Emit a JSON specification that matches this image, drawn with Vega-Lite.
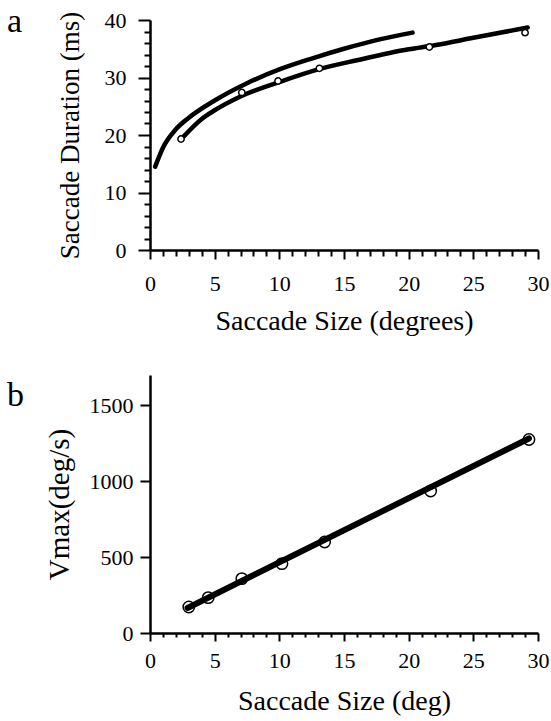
{
  "$schema": "https://vega.github.io/schema/vega-lite/v6.json",
  "background": "white",
  "padding": {"left": 7, "top": 5, "right": 4, "bottom": 3},
  "spacing": 40,
  "config": {
    "view": {"stroke": null},
    "font": "Liberation Serif",
    "axis": {
      "grid": false,
      "domainColor": "black",
      "domainWidth": 2.5,
      "tickColor": "black",
      "tickWidth": 2,
      "labelColor": "black",
      "titleColor": "black",
      "labelFont": "Liberation Serif",
      "titleFont": "Liberation Serif",
      "labelFontSize": 22,
      "titleFontWeight": "normal",
      "labelFlush": false,
      "labelOverlap": false
    }
  },
  "datasets": {
    "curves": [
      {"x": 0.4, "y": 14.5, "curve": "upper"},
      {"x": 1, "y": 17.8, "curve": "upper"},
      {"x": 2, "y": 21, "curve": "upper"},
      {"x": 3, "y": 23, "curve": "upper"},
      {"x": 5, "y": 26, "curve": "upper"},
      {"x": 7.5, "y": 29, "curve": "upper"},
      {"x": 10, "y": 31.4, "curve": "upper"},
      {"x": 12.5, "y": 33.3, "curve": "upper"},
      {"x": 15, "y": 35, "curve": "upper"},
      {"x": 17.5, "y": 36.5, "curve": "upper"},
      {"x": 20.3, "y": 37.8, "curve": "upper"},
      {"x": 2.5, "y": 19.5, "curve": "lower"},
      {"x": 4, "y": 22.8, "curve": "lower"},
      {"x": 5, "y": 24.3, "curve": "lower"},
      {"x": 7, "y": 26.7, "curve": "lower"},
      {"x": 10, "y": 29.2, "curve": "lower"},
      {"x": 13, "y": 31.4, "curve": "lower"},
      {"x": 16, "y": 33.0, "curve": "lower"},
      {"x": 20, "y": 34.9, "curve": "lower"},
      {"x": 22, "y": 35.6, "curve": "lower"},
      {"x": 25, "y": 36.9, "curve": "lower"},
      {"x": 29.2, "y": 38.7, "curve": "lower"}
    ],
    "pointsA": [
      {"x": 2.4, "y": 19.3},
      {"x": 7.1, "y": 27.4},
      {"x": 9.9, "y": 29.4},
      {"x": 13.1, "y": 31.6},
      {"x": 21.6, "y": 35.3},
      {"x": 29.0, "y": 37.8}
    ],
    "lineB": [
      {"x": 2.9, "y": 165},
      {"x": 29.3, "y": 1282}
    ],
    "pointsB": [
      {"x": 3.0, "y": 171},
      {"x": 4.5, "y": 233},
      {"x": 7.1, "y": 358},
      {"x": 10.2, "y": 457},
      {"x": 13.5, "y": 600},
      {"x": 21.7, "y": 936},
      {"x": 29.3, "y": 1275}
    ]
  },
  "vconcat": [
    {
      "width": 388,
      "height": 230,
      "title": {"text": "a", "anchor": "start", "frame": "group", "dx": -143, "offset": -30, "fontSize": 34, "font": "Liberation Serif", "fontWeight": "normal", "color": "black"},
      "encoding": {
        "x": {
          "field": "x", "type": "quantitative",
          "scale": {"domain": [0, 30], "nice": false, "zero": false},
          "axis": {
            "title": "Saccade Size (degrees)",
            "titleFontSize": 28,
            "titlePadding": 13,
            "values": [0,1,2,3,4,5,6,7,8,9,10,11,12,13,14,15,16,17,18,19,20,21,22,23,24,25,26,27,28,29,30],
            "labelExpr": "datum.value % 5 === 0 ? datum.label : ''",
            "tickSize": {"condition": {"test": "datum.value % 5 === 0", "value": 9}, "value": 6},
            "labelPadding": 14
          }
        },
        "y": {
          "field": "y", "type": "quantitative",
          "scale": {"domain": [0, 40], "nice": false},
          "axis": {
            "title": "Saccade Duration (ms)",
            "titleFontSize": 27,
            "titlePadding": 20,
            "values": [0,2,4,6,8,10,12,14,16,18,20,22,24,26,28,30,32,34,36,38,40],
            "labelExpr": "datum.value % 10 === 0 ? datum.label : ''",
            "tickSize": {"condition": {"test": "datum.value % 10 === 0", "value": 12}, "value": 6},
            "labelPadding": 12
          }
        }
      },
      "layer": [
        {
          "data": {"name": "curves"},
          "mark": {"type": "line", "color": "black", "strokeWidth": 4.5, "interpolate": "monotone", "strokeCap": "round"},
          "encoding": {"detail": {"field": "curve"}}
        },
        {
          "data": {"name": "pointsA"},
          "mark": {"type": "point", "shape": "circle", "filled": false, "fill": "white", "fillOpacity": 1, "stroke": "black", "strokeWidth": 1.5, "size": 40, "opacity": 1}
        }
      ]
    },
    {
      "width": 388,
      "height": 258,
      "title": {"text": "b", "anchor": "start", "frame": "group", "dx": -143, "offset": -38, "fontSize": 34, "font": "Liberation Serif", "fontWeight": "normal", "color": "black"},
      "encoding": {
        "x": {
          "field": "x", "type": "quantitative",
          "scale": {"domain": [0, 30], "nice": false, "zero": false},
          "axis": {
            "title": "Saccade Size (deg)",
            "titleFontSize": 28,
            "titlePadding": 16,
            "values": [0,1,2,3,4,5,6,7,8,9,10,11,12,13,14,15,16,17,18,19,20,21,22,23,24,25,26,27,28,29,30],
            "labelExpr": "datum.value % 5 === 0 ? datum.label : ''",
            "tickSize": {"condition": {"test": "datum.value % 5 === 0", "value": 8}, "value": 4},
            "labelPadding": 9
          }
        },
        "y": {
          "field": "y", "type": "quantitative",
          "scale": {"domain": [0, 1700], "nice": false},
          "axis": {
            "title": "Vmax(deg/s)",
            "titleFontSize": 29,
            "titlePadding": 15,
            "values": [0, 500, 1000, 1500],
            "format": "d",
            "tickSize": 10,
            "labelPadding": 7
          }
        }
      },
      "layer": [
        {
          "data": {"name": "pointsB"},
          "mark": {"type": "point", "shape": "circle", "filled": false, "fill": "white", "fillOpacity": 1, "stroke": "black", "strokeWidth": 1.5, "size": 130, "opacity": 1}
        },
        {
          "data": {"name": "lineB"},
          "mark": {"type": "line", "color": "black", "strokeWidth": 6, "strokeCap": "round"}
        }
      ]
    }
  ]
}
